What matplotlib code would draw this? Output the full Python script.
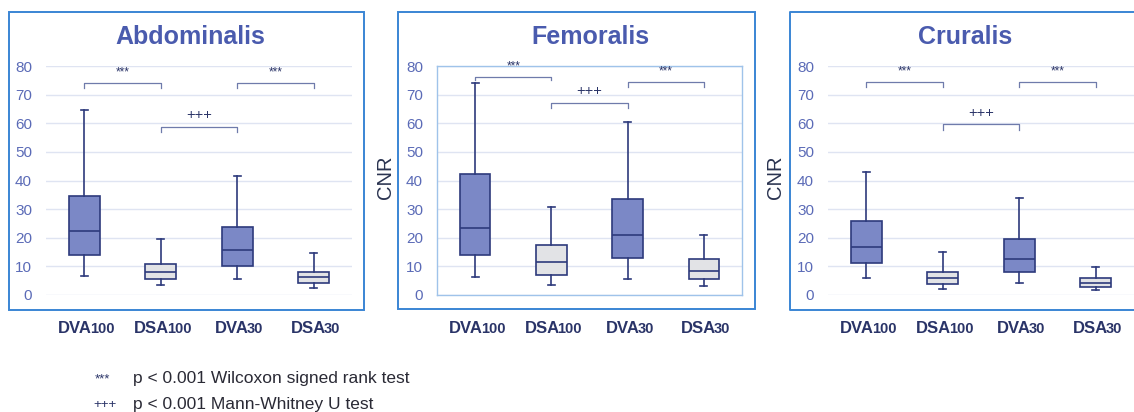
import matplotlib.pyplot as plt
from matplotlib.patches import Rectangle
from matplotlib.lines import Line2D
from matplotlib.transforms import offset_copy

plt.rcParams['font.family'] = ['Liberation Sans', 'DejaVu Sans']

# groups along the x axis (main name + small suffix)
group_names = ["DVA", "DSA", "DVA", "DSA"]
group_suffix = ["100", "100", "30", "30"]
muscles = ["Abdominalis", "Femoralis", "Cruralis"]

# box stats per group: whisker low, Q1, median, Q3, whisker high
abd_stats = [[6.8, 13.9, 22.4, 34.7, 64.8],
             [3.4, 5.5, 8.2, 11.0, 19.5],
             [5.5, 10.3, 15.8, 23.8, 41.7],
             [2.5, 4.2, 6.2, 8.1, 14.7]]
fem_stats = [[6.2, 13.9, 23.5, 42.2, 74.2],
             [3.5, 6.9, 11.6, 17.5, 30.9],
             [5.5, 12.9, 21.0, 33.4, 60.6],
             [3.1, 5.5, 8.4, 12.6, 21.0]]
cru_stats = [[6.1, 11.1, 16.7, 26.0, 43.1],
             [2.2, 3.7, 5.9, 8.0, 14.9],
             [4.3, 8.0, 12.6, 19.7, 33.8],
             [1.9, 2.9, 4.2, 6.1, 9.9]]

# significance brackets: (from group, to group, height, mark)
abd_brackets = [(1, 2, 74.2, "***"), (2, 3, 58.7, "+++"), (3, 4, 74.2, "***")]
fem_brackets = [(1, 2, 76.3, "***"), (2, 3, 67.2, "+++"), (3, 4, 74.3, "***")]
cru_brackets = [(1, 2, 74.3, "***"), (2, 3, 59.6, "+++"), (3, 4, 74.3, "***")]

yticks = [0, 10, 20, 30, 40, 50, 60, 70, 80]

DVA_FILL = "#7b88c6"
DSA_FILL = "#e2e3e6"
EDGE = "#2d3a7c"
TICK_COL = "#5b6bb7"
TITLE_COL = "#4a5bae"
GRID_COL = "#dfe4f2"
FRAME_COL = "#3a85d4"
BRACKET_COL = "#6f7bab"
LABEL_COL = "#2a3468"

W, H = 1134, 412
fig = plt.figure(figsize=(W / 100, H / 100), dpi=100)


def fx(px):
    return px / W


def fy(py):
    return 1 - py / H


# plot area left edges (px) and title centres
ax_left = [46, 437, 828]
ax_width = [306, 305, 306]
title_x = [190, 590, 965]
all_stats = [abd_stats, fem_stats, cru_stats]
all_brackets = [abd_brackets, fem_brackets, cru_brackets]

renderer = fig.canvas.get_renderer()

for i in range(3):
    ax = fig.add_axes([fx(ax_left[i]), fy(295), fx(ax_width[i]), (295 - 66) / H])
    stats = []
    for lo, q1, med, q3, hi in all_stats[i]:
        stats.append(dict(whislo=lo, q1=q1, med=med, q3=q3, whishi=hi, fliers=[]))
    bp = ax.bxp(stats, positions=[1, 2, 3, 4], widths=0.4, capwidths=0.09,
                patch_artist=True, showfliers=False,
                boxprops=dict(edgecolor=EDGE, linewidth=1.2),
                whiskerprops=dict(color=EDGE, linewidth=1.2),
                capprops=dict(color=EDGE, linewidth=1.2),
                medianprops=dict(color=EDGE, linewidth=1.2))
    for j, box in enumerate(bp['boxes']):
        box.set_facecolor(DVA_FILL if group_names[j] == "DVA" else DSA_FILL)

    ax.set_xlim(0.5, 4.5)
    ax.set_ylim(0, 80)
    ax.set_yticks(yticks)
    ax.set_xticks([])
    ax.yaxis.grid(True, color=GRID_COL, linewidth=1.0)
    ax.set_axisbelow(True)
    ax.tick_params(axis='y', length=0, pad=10, labelsize=11, labelcolor=TICK_COL)
    for side in ax.spines:
        ax.spines[side].set_visible(False)
    if i == 1:
        for side in ax.spines:
            ax.spines[side].set_visible(True)
            ax.spines[side].set_color("#9fc3ea")
            ax.spines[side].set_linewidth(1.0)
    if i > 0:
        fig.text(fx(ax_left[i] - 52), fy(177), "CNR", rotation=90, fontsize=14.5,
                 color="#2a3350", ha='center', va='center')

    # significance brackets
    for a, b, y, mark in all_brackets[i]:
        drop = 1.2 if (i == 1 and a == 1) else 1.8
        ax.plot([a, a, b, b], [y - drop, y, y, y - drop], color=BRACKET_COL,
                linewidth=0.9, clip_on=False)
        if mark == "***":
            ax.text((a + b) / 2, y + 1.6, mark, ha='center', va='bottom',
                    fontsize=8.5, color=LABEL_COL)
        else:
            ax.text((a + b) / 2, y + 1.6, mark, ha='center', va='bottom',
                    fontsize=10.5, color=LABEL_COL)

    fig.text(fx(title_x[i]), fy(37), muscles[i], ha='center', va='center',
             fontsize=18, fontweight='bold', color=TITLE_COL)

    # group labels with smaller suffix
    xt = ax.get_xaxis_transform()
    for j in range(4):
        main = ax.text(j + 1, -0.166, group_names[j], transform=xt, ha='right',
                       va='baseline', fontsize=12, fontweight='bold',
                       color=LABEL_COL, clip_on=False)
        suf = ax.annotate(group_suffix[j], xy=(1, 0), xycoords=main,
                          xytext=(-1.5, 0), textcoords='offset points',
                          ha='left', va='bottom', fontsize=10.5,
                          fontweight='bold', color=LABEL_COL)
        w_main = main.get_window_extent(renderer).width
        w_suf = suf.get_window_extent(renderer).width - 2
        main.set_transform(offset_copy(xt, fig=fig, x=(w_main - w_suf) / 2 + 2,
                                       units='dots'))

# panel frames
frame_kw = dict(color=FRAME_COL, linewidth=1.4, transform=fig.transFigure)
fig.add_artist(Rectangle((fx(9), fy(310)), fx(364 - 9), (310 - 12) / H,
                         fill=False, edgecolor=FRAME_COL, linewidth=1.4,
                         transform=fig.transFigure))
fig.add_artist(Rectangle((fx(398), fy(309)), fx(755 - 398), (309 - 12) / H,
                         fill=False, edgecolor=FRAME_COL, linewidth=1.4,
                         transform=fig.transFigure))
fig.add_artist(Line2D([1.01, fx(790), fx(790), 1.01], [fy(12), fy(12), fy(310), fy(310)],
                      **frame_kw))

# footnote
fig.text(fx(95), fy(379), "***", fontsize=9.5, color=LABEL_COL, va='center')
fig.text(fx(133), fy(379), "p < 0.001 Wilcoxon signed rank test", fontsize=12.5,
         color="#2a2a35", va='center')
fig.text(fx(93), fy(405), "+++", fontsize=9.5, color=LABEL_COL, va='center')
fig.text(fx(133), fy(405), "p < 0.001 Mann-Whitney U test", fontsize=12.5,
         color="#2a2a35", va='center')

fig.savefig("out.png", dpi=100)
